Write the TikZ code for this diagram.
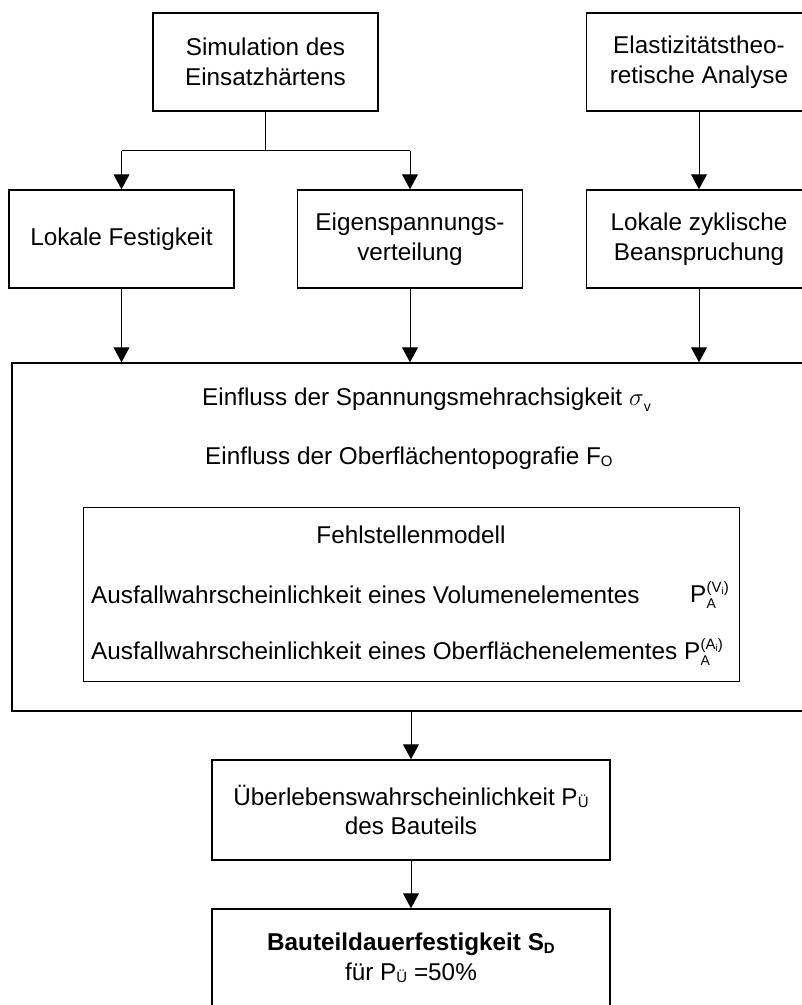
\documentclass[tikz,border=0pt]{standalone}
\usepackage{fontspec}
\setmainfont{Liberation Sans}
\usetikzlibrary{arrows.meta}
\newcommand\smallsub[1]{\raisebox{-0.2ex}{\fontsize{15}{15}\selectfont #1}}
\newcommand\PAx[1]{P\kern0.3pt\rlap{\raisebox{-0.5ex}{\fontsize{14}{14}\selectfont A}}\raisebox{0.8ex}{\fontsize{15}{15}\selectfont #1}}
\newcommand\tinyi{\raisebox{-0.25ex}{\fontsize{10}{10}\selectfont i}}
\begin{document}
\begin{tikzpicture}[x=1pt,y=-1pt,
  box/.style={draw,line width=1.5pt,minimum width=225pt,minimum height=98pt,align=center,inner sep=0pt},
  frame/.style={draw,inner sep=0pt},
  txt/.style={inner sep=0pt},
  arr/.style={line width=1pt,-{Triangle[width=16pt,length=15pt]}},
  lin/.style={line width=1pt},
  every node/.style={font=\fontsize{24.3}{29.5}\selectfont}]
\useasboundingbox (0,0) rectangle (802,1005);
\clip (0,0) rectangle (802,1005);
\node[box] (sim) at (265.5,62) {Simulation des\\Einsatzhärtens};
\node[box] (ela) at (699,62) {Elastizitätstheo-\\retische Analyse};
\node[box] (lf) at (121.5,239) {Lokale Festigkeit};
\node[box] (eig) at (410,239) {Eigenspannungs-\\verteilung};
\node[box] (lz) at (699,239) {Lokale zyklische\\Beanspruchung};
\node[frame,line width=1.5pt,minimum width=840pt,minimum height=348pt] (big) at (432,537) {};
\node[frame,line width=1pt,minimum width=656pt,minimum height=174pt] (fehl) at (411,594) {};
\node[box,minimum width=398pt,minimum height=100pt] (ueb) at (411,810) {Überlebenswahrscheinlichkeit P\smallsub{Ü}\\des Bauteils};
\node[box,minimum width=398pt,minimum height=98pt] (bau) at (411,958) {\textbf{Bauteildauerfestigkeit S\smallsub{\bfseries D}}\\für P\smallsub{Ü} =50\%};
\node[txt,anchor=west] (t1) at (202,400) {Einfluss der Spannungsmehrachsigkeit $\sigma$\raisebox{-0.45ex}{\fontsize{14}{14}\selectfont v}};
\node[txt,anchor=west] (t2) at (205,458) {Einfluss der Oberflächentopografie F\smallsub{O}};
\node[txt] (t3) at (411,535) {Fehlstellenmodell};
\node[txt,anchor=west] (t4) at (91,595) {Ausfallwahrscheinlichkeit eines Volumenelementes};
\node[txt,anchor=west] (t4p) at (690,595) {\PAx{(V\tinyi)}};
\node[txt,anchor=west] (t5) at (91,652) {Ausfallwahrscheinlichkeit eines Oberflächenelementes \PAx{(A\tinyi)}};
\draw[lin] (sim.south) -- ++(0,39) coordinate (br);
\draw[lin] (lf.north |- br) -- (eig.north |- br);
\draw[arr] (lf.north |- br) -- (lf.north);
\draw[arr] (eig.north |- br) -- (eig.north);
\draw[arr] (ela.south) -- (lz.north);
\draw[arr] (lf.south) -- (lf.south |- big.north);
\draw[arr] (eig.south) -- (eig.south |- big.north);
\draw[arr] (lz.south) -- (lz.south |- big.north);
\draw[arr] (ueb.north |- big.south) -- (ueb.north);
\draw[arr] (ueb.south) -- (bau.north);
\end{tikzpicture}
\end{document}
